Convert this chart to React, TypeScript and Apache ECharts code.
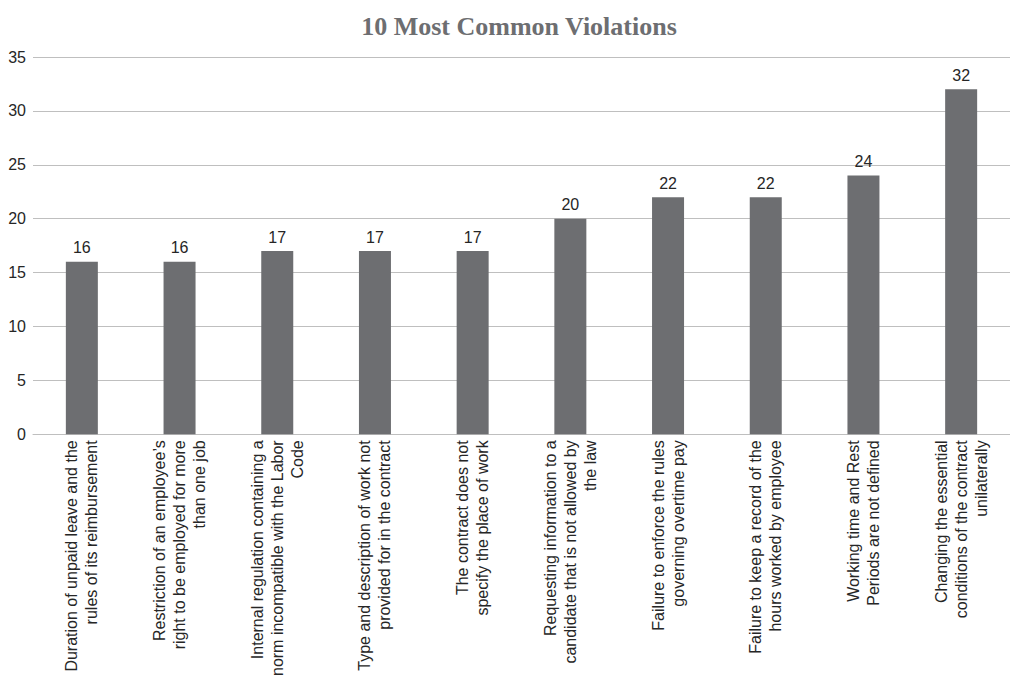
import React, { useEffect, useRef } from "react";
import * as echarts from "echarts";

const categories: string[] = [
  "Duration of unpaid leave and the\nrules of its reimbursement",
  "Restriction of an employee\u2019s\nright to be employed for more\nthan one job",
  "Internal regulation containing a\nnorm incompatible with the Labor\nCode",
  "Type and description of work not\nprovided for in the contract",
  "The contract does not\nspecify the place of work",
  "Requesting information to a\ncandidate that is not allowed by\nthe law",
  "Failure to enforce the rules\ngoverning overtime pay",
  "Failure to keep a record of the\nhours worked by employee",
  "Working time and Rest\nPeriods are not defined",
  "Changing the essential\nconditions of the contract\nunilaterally",
];

const values: number[] = [16, 16, 17, 17, 17, 20, 22, 22, 24, 32];

const yTicks = { min: 0, max: 35, interval: 5 };

const titleText = "10 Most Common Violations";

export default function App() {
  const ref = useRef<HTMLDivElement>(null);
  useEffect(() => {
    if (!ref.current) return;
    const chart = echarts.init(ref.current, undefined, { renderer: "svg" });
    chart.setOption({
      animation: false,
      backgroundColor: "#ffffff",
      title: {
        text: titleText,
        left: 514,
        textAlign: "center",
        top: 8,
        textStyle: {
          fontFamily: "Liberation Serif",
          fontWeight: "bold",
          fontSize: 26,
          color: "#6d6e71",
        },
      },
      grid: { left: 33, top: 57, width: 985, height: 380, containLabel: false },
      xAxis: {
        type: "category",
        data: categories,
        axisLine: { show: true, lineStyle: { color: "#bfbfbf", width: 1 } },
        axisTick: { show: false },
        axisLabel: {
          interval: 0,
          rotate: 90,
          margin: 6,
          fontFamily: "Liberation Sans",
          fontSize: 16,
          lineHeight: 20,
          color: "#262626",
        },
      },
      yAxis: {
        type: "value",
        min: yTicks.min,
        max: yTicks.max,
        interval: yTicks.interval,
        axisLine: { show: false },
        axisTick: { show: false },
        splitLine: { lineStyle: { color: "#bfbfbf", width: 1 } },
        axisLabel: {
          margin: 7,
          fontFamily: "Liberation Sans",
          fontSize: 16,
          color: "#262626",
        },
      },
      series: [
        {
          type: "bar",
          data: values,
          barWidth: 32,
          itemStyle: { color: "#6d6e71" },
          label: {
            show: true,
            position: "top",
            distance: 6,
            fontFamily: "Liberation Sans",
            fontSize: 16,
            color: "#262626",
          },
        },
      ],
    });
    return () => chart.dispose();
  }, []);
  return (
    <div
      ref={ref}
      style={{ position: "fixed", left: 0, top: 0, width: 1010, height: 679 }}
    />
  );
}
